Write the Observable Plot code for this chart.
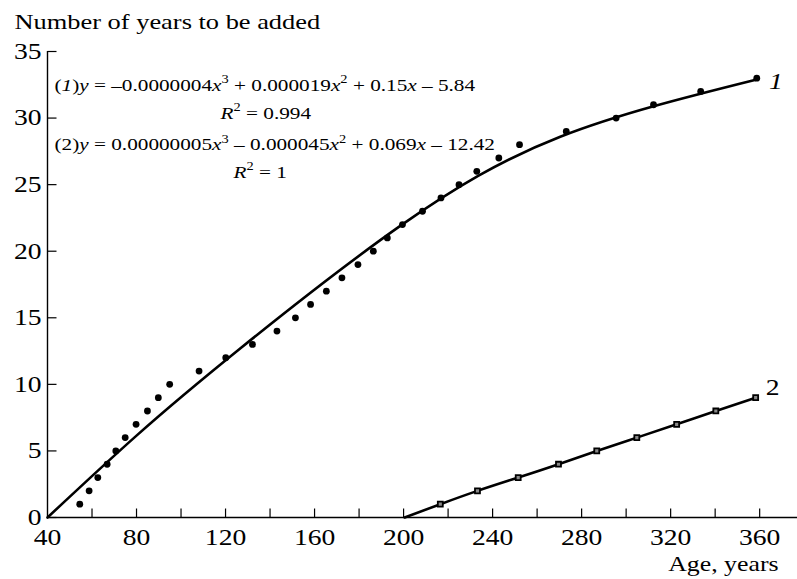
<!DOCTYPE html>
<html><head><meta charset="utf-8">
<script src="https://cdn.jsdelivr.net/npm/d3@7"></script>
<script src="https://cdn.jsdelivr.net/npm/@observablehq/plot@0.6"></script>
<style>
html,body{margin:0;padding:0;background:#fff;}
#chart svg{display:block;}
</style>
</head><body><div id="chart"></div>
<script>
// Series 1 (filled dots): age, years to be added
const ageDots   = [54.5, 58.7, 62.6, 66.8, 70.7, 74.9, 79.8, 84.9, 89.8, 94.9, 108.1, 120.1, 132.1, 143.1, 151.4, 158.2, 165.3, 172.3, 179.5, 186.4, 192.7, 199.5, 208.5, 216.8, 224.9, 232.9, 242.8, 252.1, 273.1, 295.5, 312.3, 333.5, 358.7];
const yearsDots = [1, 2, 3, 4, 5, 6, 7, 8, 9, 10, 11, 12, 13, 14, 15, 16, 17, 18, 19, 20, 21, 22, 23, 24, 25, 26, 27, 28, 29, 30, 31, 32, 33];
// Series 2 (squares)
const ageSquares   = [216.5, 233.2, 251.5, 269.6, 286.8, 304.8, 322.7, 340.3, 358.2];
const yearsSquares = [1, 2, 3, 4, 5, 6, 7, 8, 9];
// Fitted curve 1
const curve1Age   = [40, 80, 127, 198.5, 270.4, 358.7];
const curve1Years = [0, 6.15, 12.75, 21.9, 28.6, 32.9];
// Fitted curve 2
const curve2Age   = [200.5, 216.5, 233.2, 251.5, 269.6, 286.8, 304.8, 322.7, 340.3, 358.2];
const curve2Years = [0, 1, 2, 3, 4, 5, 6, 7, 8, 9];
// Ticks and labels
const xTickMarks  = [60, 80, 100, 120, 140, 160, 180, 200, 220, 240, 260, 280, 300, 320, 340, 360];
const xTickLabels = [40, 80, 120, 160, 200, 240, 280, 320, 360];
const yTicks      = [0, 5, 10, 15, 20, 25, 30, 35];
const titleText = "Number of years to be added";
const xLabelText = "Age, years";
const eq1Text = "(<i>1</i>)<i>y</i> = –0.0000004<i>x</i><sup>3</sup> + 0.000019<i>x</i><sup>2</sup> + 0.15<i>x</i> – 5.84";
const r1Text  = "<i>R</i><sup>2</sup> = 0.994";
const eq2Text = "(2)<i>y</i> = 0.00000005<i>x</i><sup>3</sup> – 0.000045<i>x</i><sup>2</sup> + 0.069<i>x</i> – 12.42";
const r2Text  = "<i>R</i><sup>2</sup> = 1";
const seriesLabels = ["1", "2"];

const dots = ageDots.map((a, i) => ({age: a, years: yearsDots[i]}));
const squares = ageSquares.map((a, i) => ({age: a, years: yearsSquares[i]}));
const c1 = curve1Age.map((a, i) => ({age: a, years: curve1Years[i]}));
const c2 = curve2Age.map((a, i) => ({age: a, years: curve2Years[i]}));

const tickShape = {draw(ctx, l) { ctx.moveTo(0, 0); ctx.lineTo(0, -l); }};
const FONT = "'Liberation Serif', 'Times New Roman', serif";
const EQ = 17.7;

const plot = Plot.plot({
  width: 797, height: 579,
  marginLeft: 47, marginRight: 0, marginTop: 51, marginBottom: 62,
  x: {domain: [40, 377]},
  y: {domain: [0, 35]},
  style: {fontFamily: FONT, fontSize: "22px", color: "black", background: "white", overflow: "visible"},
  marks: [
    Plot.axisX(xTickLabels, {tickSize: 0, tickPadding: 11, fontSize: 23, label: null}),
    Plot.axisY(yTicks, {tickSize: 0, tickPadding: 6, fontSize: 23, label: null}),
    Plot.vector(xTickMarks, {x: d => d, y: 0, length: 9, anchor: "start", rotate: 0, shape: tickShape, stroke: "black", fill: "none", strokeWidth: 1.2, strokeLinecap: "butt"}),
    Plot.vector(yTicks, {x: 40, y: d => d, length: 9, anchor: "start", rotate: 90, shape: tickShape, stroke: "black", fill: "none", strokeWidth: 1.2, strokeLinecap: "butt"}),
    Plot.ruleY([0], {stroke: "black", strokeWidth: 1.4}),
    Plot.ruleX([40], {stroke: "black", strokeWidth: 1.4}),
    Plot.line(c1, {x: "age", y: "years", curve: "natural", stroke: "black", strokeWidth: 2.6}),
    Plot.line(c2, {x: "age", y: "years", curve: "natural", stroke: "black", strokeWidth: 2.6}),
    Plot.dot(dots, {x: "age", y: "years", r: 3.4, fill: "black", stroke: "none"}),
    Plot.dot(squares, {x: "age", y: "years", symbol: "square", r: 2.8, fill: "#888", stroke: "black", strokeWidth: 1.8}),
    Plot.text([ageDots.length - 1], {x: i => ageDots[i], y: i => yearsDots[i], text: () => seriesLabels[0], dx: 19, dy: 3, fontStyle: "italic", fontSize: 23, textAnchor: "middle"}),
    Plot.text([ageSquares.length - 1], {x: i => ageSquares[i], y: i => yearsSquares[i], text: () => seriesLabels[1], dx: 17, dy: -10, fontSize: 23, textAnchor: "middle"}),
    Plot.text([titleText], {frameAnchor: "top-left", text: d => d, textAnchor: "start", lineAnchor: "bottom", dx: -33, dy: -23, fontSize: 22}),
    Plot.text([xLabelText], {frameAnchor: "bottom-right", text: d => d, textAnchor: "end", lineAnchor: "bottom", dx: -19, dy: 53, fontSize: 21.5}),
    Plot.text([eq1Text], {frameAnchor: "top-left", text: d => d, textAnchor: "start", lineAnchor: "bottom", dx: 7, dy: 39, fontSize: EQ}),
    Plot.text([r1Text], {frameAnchor: "top-left", text: d => d, textAnchor: "start", lineAnchor: "bottom", dx: 173, dy: 67, fontSize: EQ}),
    Plot.text([eq2Text], {frameAnchor: "top-left", text: d => d, textAnchor: "start", lineAnchor: "bottom", dx: 7, dy: 98.5, fontSize: EQ}),
    Plot.text([r2Text], {frameAnchor: "top-left", text: d => d, textAnchor: "start", lineAnchor: "bottom", dx: 186, dy: 126, fontSize: EQ})
  ]
});
document.getElementById("chart").append(plot);

const NS = "http://www.w3.org/2000/svg";
function richText(el, markup, fs) {
  const parts = markup.split(/(<i>.*?<\/i>|<sup>.*?<\/sup>)/).filter(s => s);
  el.textContent = "";
  let shift = 0;
  for (const p of parts) {
    const t = document.createElementNS(NS, "tspan");
    let target = 0;
    if (p.startsWith("<sup>")) {
      t.textContent = p.slice(5, -6);
      t.setAttribute("font-size", fs * 0.68);
      target = -0.42 * fs;
    } else if (p.startsWith("<i>")) {
      t.textContent = p.slice(3, -4);
      t.setAttribute("font-style", "italic");
    } else {
      t.textContent = p;
    }
    const dy = target - shift;
    if (dy) t.setAttribute("dy", dy);
    shift = target;
    el.append(t);
  }
}
d3.select(plot).selectAll("text").each(function () {
  const s = this.textContent;
  if (s.includes("<i>") || s.includes("<sup>")) richText(this, s, EQ);
});
// horizontal stretch of the reference lettering
const STRETCH = 1.2;
d3.select(plot).selectAll("text").each(function () {
  const len = this.getComputedTextLength();
  if (len > 0) {
    this.setAttribute("textLength", len * STRETCH);
    this.setAttribute("lengthAdjust", "spacingAndGlyphs");
  }
});
</script>
</body></html>
